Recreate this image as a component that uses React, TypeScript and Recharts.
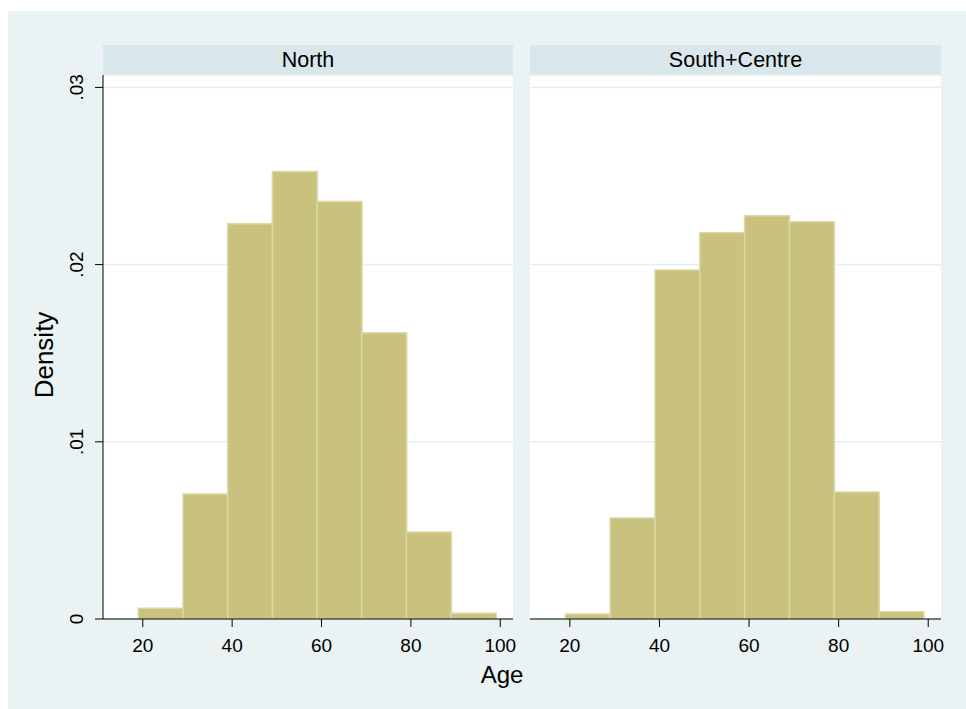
import React from "react";
import { BarChart, Bar, XAxis, YAxis, CartesianGrid } from "recharts";

// Histogram bins: Age, width 10, from 19 to 99 (bin midpoints)
const binMids = [24, 34, 44, 54, 64, 74, 84, 94];
const northDensity = [0.0006, 0.00706, 0.0223, 0.02526, 0.02356, 0.01615, 0.00491, 0.00032];
const southDensity = [0.00028, 0.0057, 0.0197, 0.0218, 0.02276, 0.02242, 0.00717, 0.00041];
const panelTitles = ["North", "South+Centre"];
const xTicks = [20, 40, 60, 80, 100];
const yTicks = [0, 0.01, 0.02, 0.03];
const xDomain: [number, number] = [11.1, 102.85];
const yDomain: [number, number] = [0, 0.0307];
const xTitle = "Age";
const yTitle = "Density";

const northData = binMids.map((m, i) => ({ mid: m, density: northDensity[i] }));
const southData = binMids.map((m, i) => ({ mid: m, density: southDensity[i] }));

const FONT = '"Liberation Sans", Arial, sans-serif';
const BG = "#EAF2F3";
const HEADER = "#D9E6EB";
const BAR_FILL = "#C9C27F";
const BAR_STROKE = "#DCD8A5";
const GRID = "#E4EDEF";

const fmtY = (v: number) => (v === 0 ? "0" : String(v).replace(/^0/, ""));

const YTick = (props: any) => {
  const { x, y, payload } = props;
  return (
    <text
      transform={`translate(${x},${y}) rotate(-90)`}
      textAnchor="middle"
      fontSize={19}
      fontFamily={FONT}
      fill="#000"
    >
      {fmtY(payload.value)}
    </text>
  );
};

const Panel = ({ data, showY }: { data: any[]; showY: boolean }) => (
  <BarChart
    width={showY ? 520 : 441}
    height={698}
    data={data}
    barCategoryGap={0}
    barGap={0}
    margin={showY ? { top: 64, right: 15, bottom: 30, left: 35 } : { top: 64, right: 25, bottom: 30, left: 5 }}
  >
    <CartesianGrid vertical={false} stroke={GRID} strokeWidth={1.5} fill="#FFFFFF" fillOpacity={1} />
    <XAxis
      dataKey="mid"
      type="number"
      domain={xDomain}
      ticks={xTicks}
      allowDataOverflow
      height={60}
      tickSize={8}
      tickMargin={12}
      stroke="#000"
      tick={{ fill: "#000", fontSize: 19, fontFamily: FONT }}
      tickLine={{ stroke: "#000" }}
      axisLine={{ stroke: "#000" }}
    />
    <YAxis
      type="number"
      domain={yDomain}
      ticks={yTicks}
      allowDataOverflow
      hide={!showY}
      width={60}
      tickSize={8}
      tickMargin={12}
      stroke="#000"
      tick={<YTick />}
      tickLine={{ stroke: "#000" }}
      axisLine={{ stroke: "#000" }}
    />
    <Bar dataKey="density" fill={BAR_FILL} stroke={BAR_STROKE} strokeWidth={1.5} isAnimationActive={false} />
  </BarChart>
);

const headerStyle = (left: number, width: number): React.CSSProperties => ({
  position: "absolute",
  left,
  top: 34,
  width,
  height: 30,
  background: HEADER,
  fontFamily: FONT,
  fontSize: 21.5,
  color: "#000",
  display: "flex",
  alignItems: "center",
  justifyContent: "center",
});

export default function App() {
  return (
    <div
      style={{
        position: "fixed",
        left: 8,
        top: 11,
        width: 958,
        height: 698,
        background: BG,
        overflow: "hidden",
      }}
    >
      <div style={headerStyle(95, 410)}>{panelTitles[0]}</div>
      <div style={headerStyle(522, 411)}>{panelTitles[1]}</div>
      <div style={{ position: "absolute", left: 0, top: 0 }}>
        <Panel data={northData} showY={true} />
      </div>
      <div style={{ position: "absolute", left: 517, top: 0 }}>
        <Panel data={southData} showY={false} />
      </div>
      <svg
        width={958}
        height={698}
        style={{ position: "absolute", left: 0, top: 0, pointerEvents: "none" }}
      >
        <text x={494} y={672} textAnchor="middle" fontSize={24} fontFamily={FONT} fill="#000">
          {xTitle}
        </text>
        <text
          transform="translate(45,344) rotate(-90)"
          textAnchor="middle"
          fontSize={26}
          fontFamily={FONT}
          fill="#000"
        >
          {yTitle}
        </text>
      </svg>
    </div>
  );
}
